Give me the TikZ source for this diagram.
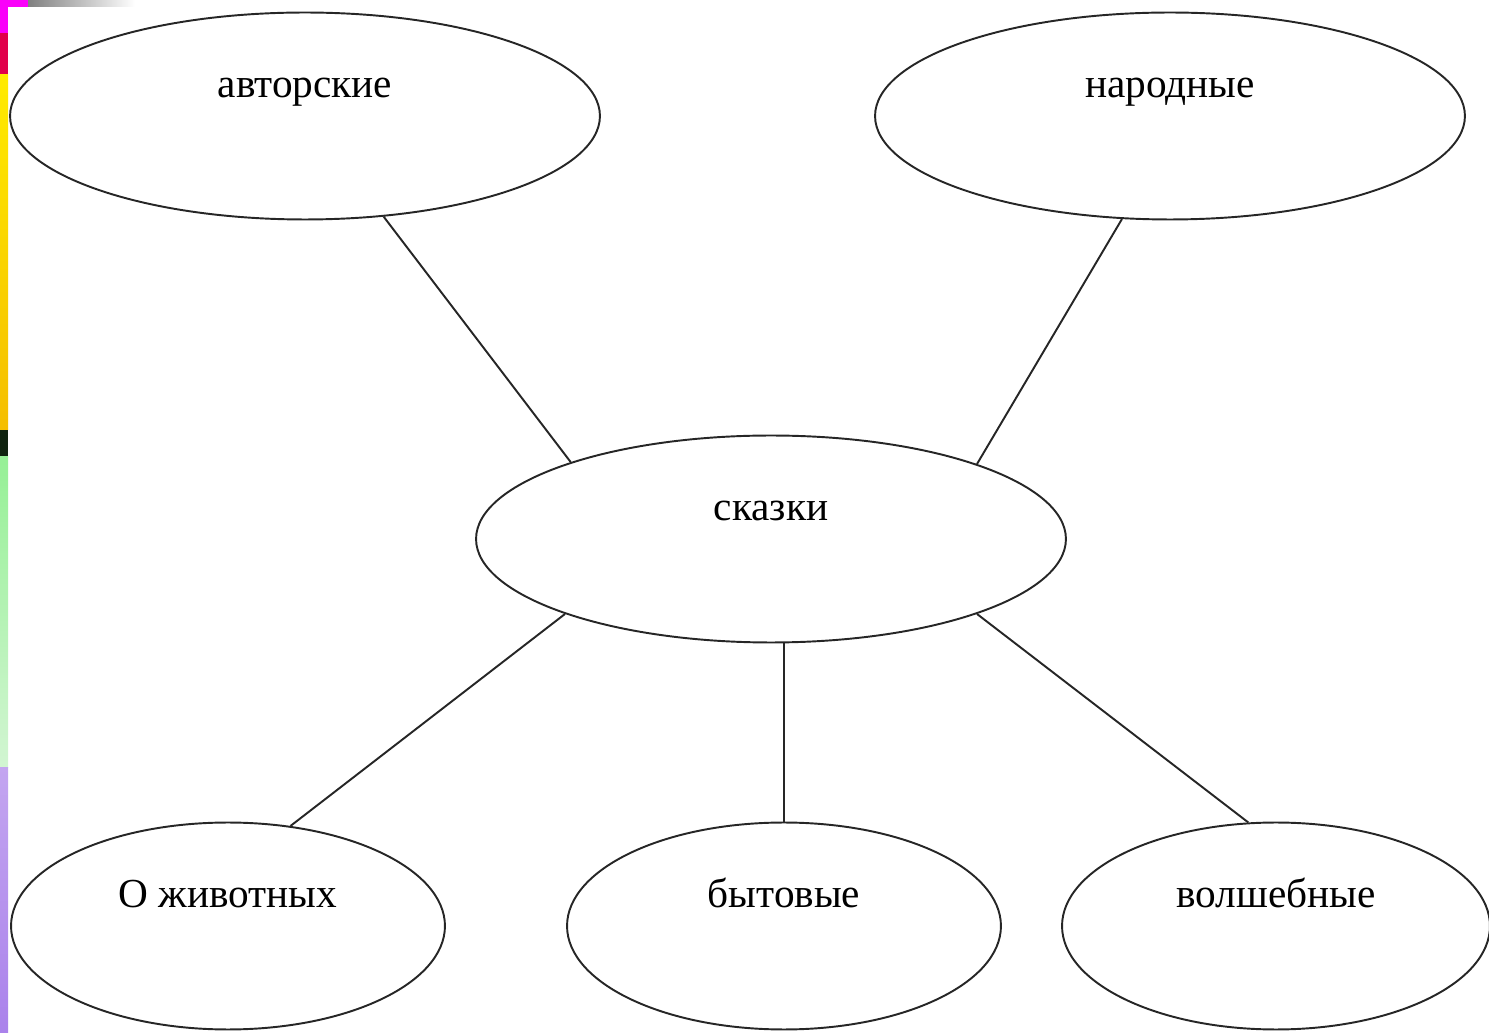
\documentclass[tikz,border=0pt]{standalone}
\usepackage{fontspec}
\setmainfont{Liberation Serif}
\usetikzlibrary{shapes.geometric}
\definecolor{stripmag}{RGB}{250,0,250}
\definecolor{stripred}{RGB}{225,0,75}
\definecolor{stripyel}{RGB}{255,235,0}
\definecolor{stripora}{RGB}{245,190,0}
\definecolor{stripdark}{RGB}{15,35,15}
\definecolor{stripgrn}{RGB}{150,240,150}
\definecolor{stripgrnl}{RGB}{210,245,210}
\definecolor{striplav}{RGB}{195,165,240}
\definecolor{stripvio}{RGB}{170,130,235}
\begin{document}
\begin{tikzpicture}[x=0.02cm,y=-0.02cm,
  oval/.style={draw=black!85, line width=1.1pt, ellipse, inner sep=0pt,
    minimum height=4.14cm, font=\fontsize{23.5}{28}\selectfont,
    text height=18pt, text depth=38.8pt},
  bigoval/.style={oval, minimum width=11.8cm},
  smalloval/.style={oval, minimum width=8.68cm},
  link/.style={draw=black!85, line width=1.1pt}]
\useasboundingbox (0,0) rectangle (1489,1033);
% decorative border strip
\fill[stripmag] (0,0) rectangle (8,33);
\fill[stripmag] (8,0) rectangle (28,7);
\shade[left color=black!50, right color=white] (28,0) rectangle (135,7);
\fill[stripred] (0,33) rectangle (8,75);
\shade[top color=stripyel, bottom color=stripora] (0,75) rectangle (8,430);
\fill[stripdark] (0,430) rectangle (8,457);
\shade[top color=stripgrn, bottom color=stripgrnl] (0,457) rectangle (8,768);
\shade[top color=striplav, bottom color=stripvio] (0,768) rectangle (8,1033);
% nodes
\node[bigoval] (avt) at (305,116) {авторские};
\node[bigoval] (nar) at (1170,116) {народные};
\node[bigoval] (skaz) at (771,539) {сказки};
\node[smalloval] (ozh) at (228,926) {О животных};
\node[smalloval] (byt) at (784,926) {бытовые};
\node[oval, minimum width=8.56cm] (vol) at (1276,926) {волшебные};
% connectors
\draw[link] (avt.-52) -- (skaz.159.8);
\draw[link] (nar.245) -- (skaz.20.3);
\draw[link] (skaz.200.2) -- (ozh.58);
\draw[link] (byt.north) -- (byt.north |- skaz.south);
\draw[link] (skaz.-20.3) -- (vol.105.8);
\end{tikzpicture}
\end{document}
